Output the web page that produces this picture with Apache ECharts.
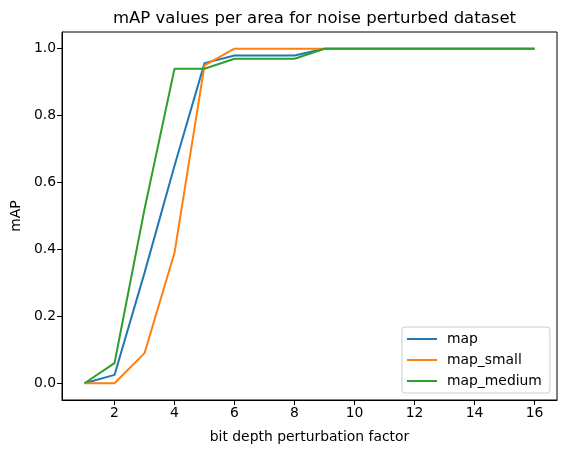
<!DOCTYPE html>
<html>
<head>
<meta charset="utf-8">
<script src="https://cdn.jsdelivr.net/npm/echarts@6/dist/echarts.min.js"></script>
<style>
html,body{margin:0;padding:0;background:#fff;}
#chart{width:567px;height:454px;}
</style>
</head>
<body>
<div id="chart"></div>
<script>
const bitDepth = [1, 2, 3, 4, 5, 6, 8, 9, 16];
const mapAll = [0, 0.025, 0.33, 0.65, 0.957, 0.98, 0.98, 1.0, 1.0];
const mapSmall = [0, 0, 0.09, 0.39, 0.95, 1.0, 1.0, 1.0, 1.0];
const mapMedium = [0, 0.06, 0.52, 0.94, 0.94, 0.97, 0.97, 1.0, 1.0];
const xTicks = [2, 4, 6, 8, 10, 12, 14, 16];
const yTicks = [0, 0.2, 0.4, 0.6, 0.8, 1.0];
const seriesNames = ['map', 'map_small', 'map_medium'];

const FONT = 'DejaVu Sans';
const pair = arr => bitDepth.map((x, i) => [x, arr[i]]);

const chart = echarts.init(document.getElementById('chart'), null, {renderer: 'canvas'});
const colors = ['#1f77b4', '#ff7f0e', '#2ca02c'];
const values = [mapAll, mapSmall, mapMedium];

chart.setOption({
  animation: false,
  backgroundColor: '#fff',
  textStyle: {fontFamily: FONT},
  title: {
    text: 'mAP values per area for noise perturbed dataset',
    left: 309.5,
    textAlign: 'center',
    top: 5,
    textStyle: {fontFamily: FONT, fontSize: 16.5, fontWeight: 'normal', color: '#000'}
  },
  grid: {
    left: 62, right: 10, top: 32, bottom: 54,
    show: true, borderColor: '#000', borderWidth: 1, backgroundColor: 'transparent'
  },
  legend: {
    data: seriesNames,
    orient: 'vertical',
    left: 402,
    top: 327,
    padding: [5, 8, 5, 5],
    itemGap: 7,
    itemWidth: 30,
    itemHeight: 2,
    icon: 'rect',
    backgroundColor: 'rgba(255,255,255,0.8)',
    borderColor: '#cccccc',
    borderWidth: 1,
    borderRadius: 3,
    textStyle: {fontFamily: FONT, fontSize: 13.9, color: '#000', padding: [0, 0, 0, 5]}
  },
  xAxis: {
    type: 'value',
    min: 0.25,
    max: 16.75,
    name: 'bit depth perturbation factor',
    nameLocation: 'middle',
    nameGap: 30,
    nameTextStyle: {fontFamily: FONT, fontSize: 13.9, color: '#000'},
    axisLine: {show: true, onZero: false, lineStyle: {color: '#000', width: 1}},
    axisTick: {show: true, customValues: xTicks, length: 5, inside: false, lineStyle: {color: '#000'}},
    axisLabel: {customValues: xTicks, fontFamily: FONT, fontSize: 13.9, color: '#000', margin: 6},
    splitLine: {show: false}
  },
  yAxis: {
    type: 'value',
    min: -0.05,
    max: 1.05,
    name: 'mAP',
    nameLocation: 'middle',
    nameGap: 38,
    nameTextStyle: {fontFamily: FONT, fontSize: 13.9, color: '#000'},
    axisLine: {show: true, onZero: false, lineStyle: {color: '#000', width: 1}},
    axisTick: {show: true, customValues: yTicks, length: 5, inside: false, lineStyle: {color: '#000'}},
    axisLabel: {customValues: yTicks, fontFamily: FONT, fontSize: 13.9, color: '#000', margin: 6,
      formatter: v => Number(v).toFixed(1)},
    splitLine: {show: false}
  },
  series: seriesNames.map((n, i) => ({
    name: n,
    type: 'line',
    data: pair(values[i]),
    showSymbol: false,
    symbol: 'none',
    color: colors[i],
    lineStyle: {color: colors[i], width: 2},
    itemStyle: {color: colors[i]},
    z: 2 + i
  }))
});
</script>
</body>
</html>
